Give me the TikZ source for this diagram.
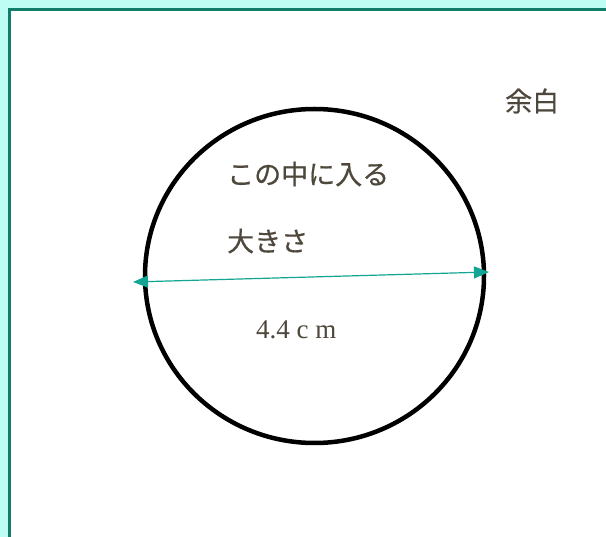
\documentclass[tikz,border=0pt]{standalone}
\usepackage{fontspec}
\setmainfont{Liberation Serif}
\newfontfamily\cjk[FakeBold=0.6]{Noto Sans CJK JP}
\usetikzlibrary{arrows.meta}
\definecolor{bgcyan}{HTML}{BEFDF3}
\definecolor{frameteal}{HTML}{137D6C}
\definecolor{arrowteal}{HTML}{12A593}
\definecolor{txt}{HTML}{4E473B}
\tikzset{
  jtext/.style={text=txt, font=\cjk\fontsize{27}{32}\selectfont, inner sep=0pt, anchor=west},
  dimtext/.style={text=txt, font=\fontsize{27}{32}\selectfont, inner sep=0pt, anchor=west},
  dimarrow/.style={draw=arrowteal, line width=1.2pt, {Triangle[length=15pt,width=12pt]}-{Triangle[length=15pt,width=12pt]}}
}
\begin{document}
\begin{tikzpicture}[x=1pt,y=-1pt]
\useasboundingbox (0,0) rectangle (606,537);
\fill[bgcyan] (0,0) rectangle (606,537);
\filldraw[fill=white, draw=frameteal, line width=3pt] (9.5,9.5) rectangle (620,550);
\draw[line width=4.5pt] (314.5,276) ellipse (169.5 and 167);
\coordinate (L) at (133,282);
\coordinate (R) at (489,272);
\draw[dimarrow] (L) -- (R);
\node[jtext] (t1) at (227,174) {この中に入る};
\node[jtext] (t2) at (227,241) {大きさ};
\node[jtext] (t3) at (505,101) {余白};
\node[dimtext] (d) at (256,330) {4.4 c m};
\end{tikzpicture}
\end{document}
